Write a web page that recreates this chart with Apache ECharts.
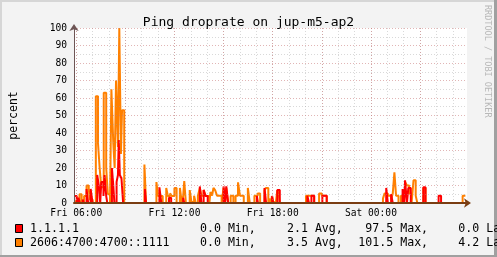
<!DOCTYPE html>
<html><head><meta charset="utf-8">
<script src="https://cdn.jsdelivr.net/npm/echarts@6/dist/echarts.min.js"></script>
<style>html,body{margin:0;padding:0;background:#f3f3f3}#c{width:497px;height:257px}</style>
</head><body><div id="c"></div>
<script>
const titleText = 'Ping droprate on jup-m5-ap2';
const yLabel = 'percent';
const watermark = 'RRDTOOL / TOBI OETIKER';
const seriesNames = ['1.1.1.1', '2606:4700:4700::1111'];
const seriesColors = ['#ff0000', '#ff8000'];
// change points: minutes since Fri 00:00, value held until next point
const redTimes  = [352,362,368,374,384,388,398,404,413,420,437,443,448,452,460,464,470,474,491,496,500,508,513,516,520,526,532,
  612,616,665,672,700,708,752,756,813,819,827,834,842,900,906,910,917,1022,1026,1050,1056,1078,1082,1097,1106,
  1207,1213,1222,1232,1262,1278,1496,1502,1514,1520,1556,1562,1565,1572,1577,1586,1632,1640,1688,1697,1786];
const redValues = [4,0,3,0,2,0,8,0,8,0,16,10,0,12,4,16,4,0,20,10,0,12,16,36,16,14,0,
  8,0,9,0,3,0,3,0,9.5,0,7.5,4,0,9.5,0,9.5,0,4,0,8.6,0,4,0,7.5,0,
  4.2,0,4.2,0,4.2,0,8.6,0,5,0,8,0,13,0,8.6,0,9,0,4.2,0,0];
const orangeTimes  = [352,362,372,380,389,398,406,410,420,432,440,446,452,461,470,476,484,489,496,501,506,513,518,524,528,536,
  610,616,654,660,677,690,696,704,710,720,728,740,747,752,756,762,776,782,786,792,798,
  806,813,819,827,834,848,852,858,863,869,876,893,900,906,910,917,926,936,944,953,960,974,989,996,
  1013,1025,1034,1050,1056,1064,1068,1074,1077,1082,1085,1092,1097,1102,1106,
  1202,1232,1250,1260,1278,1484,1490,1502,1514,1520,1526,1532,1541,1550,1565,1572,1580,1589,1596,1604,1610,1632,1640,1776,1786];
const orangeValues = [1,0,5,0,4,10,8,2,0,61,34,20,9,63,20,5,0,65,34,20,70,32,100,28,53,0,
  22,0,12,4,0,8.6,4,5.5,4,8.6,0,8.6,0,4,12.6,0,7.4,1,0,4.2,0,
  4.2,8.6,4.2,7.4,4,0,6.3,4.2,8.6,7.4,4.2,0,8.6,1,8.6,0,4.2,0,4.2,11.8,4.2,0,8.6,0,
  4.2,5.5,0,7.4,8.6,0,2.5,0,4,0,1,0,7.4,5.5,0,
  4.2,0,5.5,4.2,0,2.5,5.5,4.2,2,5.5,17.5,4.2,0,4.2,12,10,5.5,0,13,4.2,0,8.6,0,4.2,4.2];
const statMin  = [0.0, 0.0];
const statAvg  = [2.1, 3.5];
const statMax  = [97.5, 101.5];
const statLast = [0.0, 4.2];
const xStart = 352, xEnd = 1792;
const labelTicks = [360, 720, 1080, 1440];
const majorTicks = [360, 540, 720, 900, 1080, 1260, 1440, 1620];
const minorTicks = [360,420,480,540,600,660,720,780,840,900,960,1020,1080,1140,1200,1260,1320,1380,1440,1500,1560,1620,1680,1740];

const MONO = "'DejaVu Sans Mono', monospace";
function pairs(t, v) { return t.map((x, i) => [x, v[i]]); }
function fmtTime(v) {
  const day = v < 1440 ? 'Fri' : 'Sat';
  const m = v % 1440, h = Math.floor(m / 60), mm = m % 60;
  return day + ' ' + String(h).padStart(2, '0') + ':' + String(mm).padStart(2, '0');
}
const pad = (n, w) => n.toFixed(1).padStart(w, ' ');

const chart = echarts.init(document.getElementById('c'), null, {renderer: 'canvas'});
const legendRows = [0, 1].map(i => {
  const y = 229 + i * 14;
  return [
    {type: 'rect', shape: {x: 15.5, y: y - 4.5, width: 7, height: 8}, style: {fill: seriesColors[i], stroke: '#000', lineWidth: 1}},
    {type: 'text', x: 30, y: y, style: {text: seriesNames[i], font: '11.6px ' + MONO, fill: '#000', verticalAlign: 'middle'}},
    {type: 'text', x: 186, y: y, style: {text: pad(statMin[i], 5) + ' Min,', font: '11.6px ' + MONO, fill: '#000', verticalAlign: 'middle'}},
    {type: 'text', x: 273, y: y, style: {text: pad(statAvg[i], 5) + ' Avg,', font: '11.6px ' + MONO, fill: '#000', verticalAlign: 'middle'}},
    {type: 'text', x: 358.3, y: y, style: {text: pad(statMax[i], 5) + ' Max,', font: '11.6px ' + MONO, fill: '#000', verticalAlign: 'middle'}},
    {type: 'text', x: 444.4, y: y, style: {text: pad(statLast[i], 5) + ' Last', font: '11.6px ' + MONO, fill: '#000', verticalAlign: 'middle'}}
  ];
}).flat();

chart.setOption({
  animation: false,
  backgroundColor: '#f3f3f3',
  title: {text: titleText, left: 'center', top: 11, textStyle: {fontFamily: MONO, fontSize: 13, fontWeight: 'normal', color: '#000'}},
  grid: {left: 67, top: 28, width: 400, height: 175, show: true, backgroundColor: '#fff', borderWidth: 0},
  xAxis: [
    {type: 'value', min: xStart, max: xEnd, position: 'bottom', z: 5,
     axisLine: {show: true, onZero: false, lineStyle: {color: '#7a3d12', width: 2}, symbol: ['none', 'arrow'], symbolSize: [7, 7], symbolOffset: [0, 4]},
     axisTick: {show: false, customValues: majorTicks},
     axisLabel: {customValues: labelTicks, formatter: fmtTime, fontFamily: MONO, fontSize: 9.6, color: '#000', margin: 5},
     splitLine: {show: true, lineStyle: {color: 'rgba(200,120,120,0.55)', type: [1, 2], width: 1}}},
    {type: 'value', min: xStart, max: xEnd, position: 'bottom', z: 0,
     axisLine: {show: false}, axisTick: {show: false, customValues: minorTicks},
     axisLabel: {show: false, customValues: minorTicks},
     splitLine: {show: true, lineStyle: {color: 'rgba(160,160,160,0.4)', type: [1, 2], width: 1}}}
  ],
  yAxis: {type: 'value', min: 0, max: 100, interval: 10, z: 5,
    name: yLabel, nameLocation: 'middle', nameGap: 54, nameTextStyle: {fontFamily: MONO, fontSize: 11.5, color: '#000'},
    axisLine: {show: true, lineStyle: {color: '#6d5555', width: 1}, symbol: ['none', 'arrow'], symbolSize: [7, 7], symbolOffset: [0, 4]},
    axisTick: {show: false},
    axisLabel: {fontFamily: MONO, fontSize: 9.6, color: '#000', margin: 7},
    splitLine: {show: true, lineStyle: {color: 'rgba(200,120,120,0.55)', type: [1, 2], width: 1}},
    minorTick: {show: false, splitNumber: 2},
    minorSplitLine: {show: true, lineStyle: {color: 'rgba(160,160,160,0.4)', type: [1, 2], width: 1}}
  },
  series: [
    {name: seriesNames[1], type: 'line', step: 'end', data: pairs(orangeTimes, orangeValues), showSymbol: false,
     lineStyle: {color: seriesColors[1], width: 2}, z: 2},
    {name: seriesNames[0], type: 'line', step: 'end', data: pairs(redTimes, redValues), showSymbol: false,
     lineStyle: {color: seriesColors[0], width: 2}, z: 3}
  ],
  graphic: [
    {type: 'rect', shape: {x: 0, y: 0, width: 497, height: 2}, style: {fill: '#d6d6d6'}, silent: true},
    {type: 'rect', shape: {x: 0, y: 0, width: 2, height: 257}, style: {fill: '#d6d6d6'}, silent: true},
    {type: 'rect', shape: {x: 494, y: 0, width: 3, height: 257}, style: {fill: '#a0a0a0'}, silent: true},
    {type: 'rect', shape: {x: 0, y: 255, width: 497, height: 2}, style: {fill: '#a0a0a0'}, silent: true},
    {type: 'text', x: 492, y: 5, rotation: -Math.PI / 2, style: {text: watermark, font: '8.5px ' + MONO, fill: '#b8b8b8'}},
    ...legendRows
  ]
});
</script>
</body></html>
